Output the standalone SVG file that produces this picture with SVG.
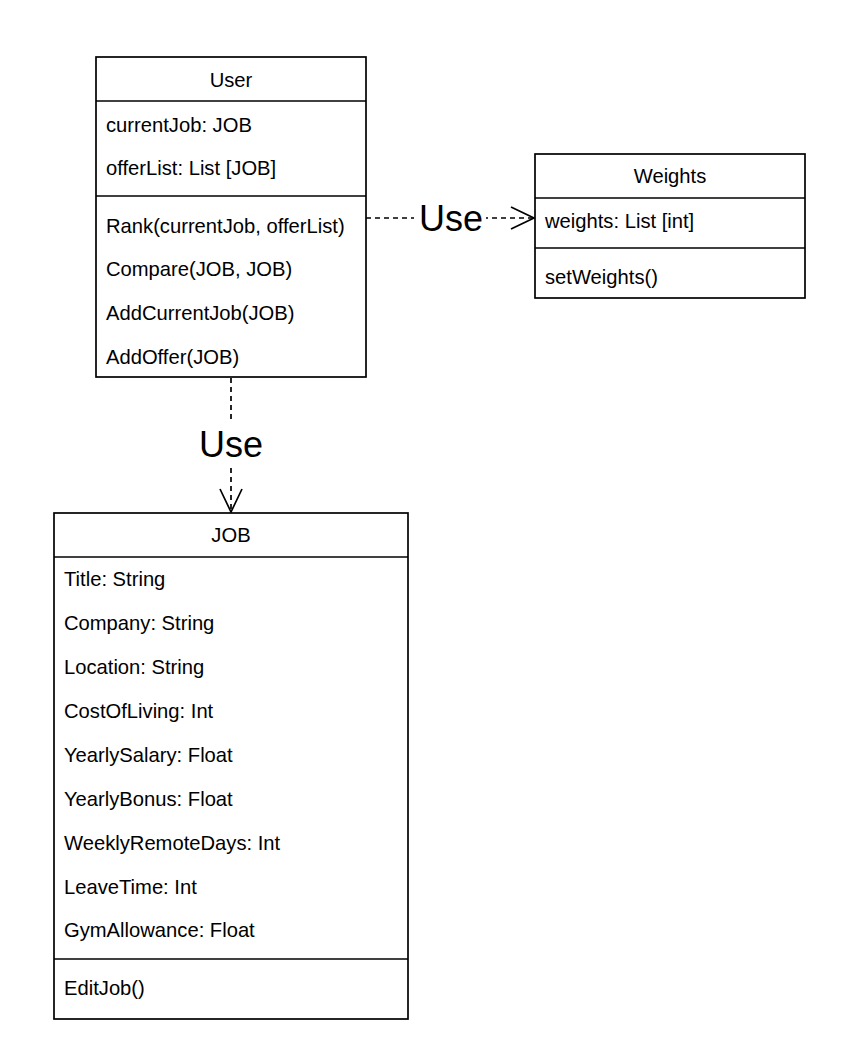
<svg xmlns="http://www.w3.org/2000/svg" width="852" height="1056" viewBox="0 0 852 1056">
<style>
.box{fill:#fff;stroke:#000;stroke-width:1.7}
.ln{stroke:#000;stroke-width:1.7;fill:none}
.t{font-family:"Liberation Sans",Arial,sans-serif;font-size:20.2px;fill:#000}
.c{text-anchor:middle}
.lbl{font-family:"Liberation Sans",Arial,sans-serif;font-size:36px;fill:#000;text-anchor:middle}
.dash{stroke:#000;stroke-width:1.7;fill:none;stroke-dasharray:5 4}
</style>
<defs>
<marker id="open" markerUnits="userSpaceOnUse" markerWidth="30" markerHeight="30" refX="24" refY="12" orient="auto" viewBox="0 0 30 24">
<path d="M1,1 L24,12 L1,23" fill="none" stroke="#000" stroke-width="1.7"/>
</marker>
</defs>
<rect width="852" height="1056" fill="#fff"/>
<g id="connectors">
<line class="dash" x1="366" y1="218" x2="534" y2="218" marker-end="url(#open)"/>
<rect x="414" y="196" width="72" height="44" fill="#fff"/>
<text class="lbl" x="451" y="231">Use</text>
<line class="dash" x1="231" y1="378" x2="231" y2="512" marker-end="url(#open)"/>
<rect x="196" y="422" width="70" height="45" fill="#fff"/>
<text class="lbl" x="231" y="457">Use</text>
</g>
<g id="user">
<rect class="box" x="96" y="57" width="270" height="320"/>
<line class="ln" x1="96" y1="101" x2="366" y2="101"/>
<line class="ln" x1="96" y1="196" x2="366" y2="196"/>
<text class="t c" x="231" y="87">User</text>
<text class="t" x="106" y="132">currentJob: JOB</text>
<text class="t" x="106" y="175">offerList: List [JOB]</text>
<text class="t" x="106" y="233">Rank(currentJob, offerList)</text>
<text class="t" x="106" y="276">Compare(JOB, JOB)</text>
<text class="t" x="106" y="320">AddCurrentJob(JOB)</text>
<text class="t" x="106" y="364">AddOffer(JOB)</text>
</g>
<g id="weights">
<rect class="box" x="535" y="154" width="270" height="144"/>
<line class="ln" x1="535" y1="198" x2="805" y2="198"/>
<line class="ln" x1="535" y1="248" x2="805" y2="248"/>
<text class="t c" x="670" y="183">Weights</text>
<text class="t" x="545" y="228">weights: List [int]</text>
<text class="t" x="545" y="284">setWeights()</text>
</g>
<g id="job">
<rect class="box" x="54" y="513" width="354" height="506"/>
<line class="ln" x1="54" y1="557" x2="408" y2="557"/>
<line class="ln" x1="54" y1="959" x2="408" y2="959"/>
<text class="t c" x="231" y="542">JOB</text>
<text class="t" x="64" y="586">Title: String</text>
<text class="t" x="64" y="630">Company: String</text>
<text class="t" x="64" y="674">Location: String</text>
<text class="t" x="64" y="718">CostOfLiving: Int</text>
<text class="t" x="64" y="762">YearlySalary: Float</text>
<text class="t" x="64" y="806">YearlyBonus: Float</text>
<text class="t" x="64" y="850">WeeklyRemoteDays: Int</text>
<text class="t" x="64" y="894">LeaveTime: Int</text>
<text class="t" x="64" y="937">GymAllowance: Float</text>
<text class="t" x="64" y="995">EditJob()</text>
</g>
</svg>
